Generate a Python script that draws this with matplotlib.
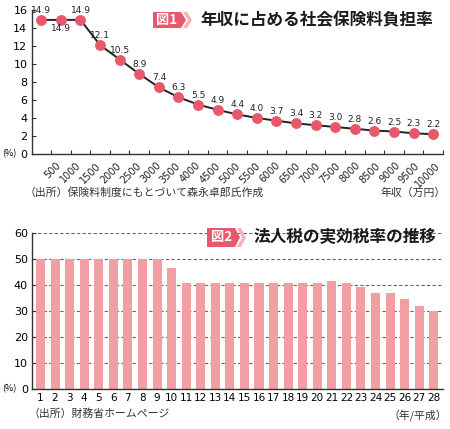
import matplotlib
matplotlib.use('Agg')
import matplotlib.pyplot as plt
import matplotlib.transforms as mtransforms
from matplotlib.patches import Polygon

# 図1: 年収別 社会保険料負担率 (%)
nenshu_labels = ['500', '1000', '1500', '2000', '2500', '3000', '3500', '4000',
                 '4500', '5000', '5500', '6000', '6500', '7000', '7500', '8000',
                 '8500', '9000', '9500', '10000']
futan = [14.9, 14.9, 14.9, 12.1, 10.5, 8.9, 7.4, 6.3, 5.5, 4.9, 4.4,
         4.0, 3.7, 3.4, 3.2, 3.0, 2.8, 2.6, 2.5, 2.3, 2.2]

# 図2: 法人税の実効税率 (平成1〜28年, %)
heisei = [1, 2, 3, 4, 5, 6, 7, 8, 9, 10, 11, 12, 13, 14,
          15, 16, 17, 18, 19, 20, 21, 22, 23, 24, 25, 26, 27, 28]
zeiritsu = [50.0, 50.0, 50.0, 50.0, 50.0, 50.0, 50.0, 50.0, 50.0, 46.4,
            40.9, 40.9, 40.9, 40.9, 40.9, 40.9, 40.9, 40.9, 40.9, 40.9,
            41.5, 40.9, 39.3, 37.0, 37.0, 34.6, 32.1, 30.0]

JP = ['Noto Sans CJK JP', 'DejaVu Sans']
AKA = '#E8586B'
PINK = '#F29FA4'
W, H = 450, 429


def fx(px):
    return px / W


def fy(py):
    return 1 - py / H


fig = plt.figure(figsize=(4.5, 4.29), dpi=100)

# ---- 図1 ----
ax1 = fig.add_axes([fx(31.5), fy(154), fx(443) - fx(31.5), fy(10) - fy(154)])
xs = [i + 0.5 for i in range(len(futan))]
ax1.plot(xs, futan, color='#222222', lw=1.4, marker='o', ms=6.8,
         mfc=AKA, mec=AKA, zorder=3, clip_on=False)
ax1.set_xlim(0, 21)
ax1.set_ylim(0, 16)
ax1.set_yticks(range(0, 17, 2))
ax1.set_xticks(range(1, 22))
ax1.set_xticklabels([])
ax1.tick_params(axis='x', direction='in', length=3, width=0.8, color='#333333')
ax1.tick_params(axis='y', direction='in', length=3, width=0.8, labelsize=8,
                pad=3, color='#333333')
for s in ['top', 'right']:
    ax1.spines[s].set_visible(False)
for s in ['left', 'bottom']:
    ax1.spines[s].set_color('#333333')
    ax1.spines[s].set_linewidth(1.0)

trans1 = mtransforms.blended_transform_factory(ax1.transData, ax1.transAxes)
for i, lab in enumerate(nenshu_labels):
    ax1.text(1.607 + 1.017 * i, -0.045, lab, transform=trans1, rotation=45,
             ha='right', va='top', fontsize=7, color='#222222')

for i, v in enumerate(futan):
    dy = -6.5 if i == 1 else 6.8
    ax1.annotate(f'{v:.1f}', (xs[i], v), xytext=(0, dy),
                 textcoords='offset points', ha='center', va='center',
                 fontsize=6.5, color='#222222', annotation_clip=False)

fig.text(fx(2), fy(154), '(%)', fontsize=6.5, va='center', ha='left', family=JP)
fig.text(fx(25), fy(193), '（出所）保険料制度にもとづいて森永卓郎氏作成',
         fontsize=7.8, va='center', ha='left', family=JP, color='#333333')
fig.text(fx(446), fy(193), '年収（万円）', fontsize=7.8, va='center',
         ha='right', family=JP, color='#333333')

# ---- 図2 ----
ax2 = fig.add_axes([fx(32), fy(389), fx(443) - fx(32), fy(233) - fy(389)])
ax2.bar(heisei, zeiritsu, width=0.62, color=PINK, zorder=2)
ax2.set_xlim(0.417, 28.63)
ax2.set_ylim(0, 60)
ax2.set_yticks(range(0, 61, 10))
ax2.set_xticks(heisei)
ax2.set_axisbelow(True)
ax2.yaxis.grid(True, linestyle=(0, (3, 2)), color='#666666', lw=0.8)
ax2.tick_params(axis='x', length=0, labelsize=7.5, pad=3)
ax2.tick_params(axis='y', direction='in', length=3, width=0.8, labelsize=8,
                pad=3, color='#333333')
for s in ['top', 'right']:
    ax2.spines[s].set_visible(False)
for s in ['left', 'bottom']:
    ax2.spines[s].set_color('#333333')
    ax2.spines[s].set_linewidth(1.0)

fig.text(fx(2), fy(389), '(%)', fontsize=6.5, va='center', ha='left', family=JP)
fig.text(fx(28), fy(414), '（出所）財務省ホームページ', fontsize=7.8,
         va='center', ha='left', family=JP, color='#333333')
fig.text(fx(447), fy(415), '（年/平成）', fontsize=7.8, va='center',
         ha='right', family=JP, color='#333333')


# ---- 見出し ----
def midashi(x0, y0, y1, num, title):
    ym = (y0 + y1) / 2
    box = [(x0, y0), (x0 + 28, y0), (x0 + 33, ym), (x0 + 28, y1), (x0, y1)]
    fig.patches.append(Polygon([(fx(a), fy(b)) for a, b in box], closed=True,
                               transform=fig.transFigure, facecolor=AKA,
                               edgecolor='none'))
    chev = [(x0 + 30, y0), (x0 + 34, y0), (x0 + 39, ym), (x0 + 34, y1),
            (x0 + 30, y1), (x0 + 35, ym)]
    fig.patches.append(Polygon([(fx(a), fy(b)) for a, b in chev], closed=True,
                               transform=fig.transFigure, facecolor='#F7B3BA',
                               edgecolor='none'))
    fig.text(fx(x0 + 14), fy(ym), num, color='white', fontsize=9.5,
             fontweight='bold', ha='center', va='center', family=JP)
    fig.text(fx(x0 + 47), fy(ym), title, fontsize=12, fontweight='bold',
             ha='left', va='center', family=JP, color='#1a1a1a')


midashi(153, 12, 28, '図1', '年収に占める社会保険料負担率')
midashi(207, 228, 247, '図2', '法人税の実効税率の推移')

fig.savefig('out.png', dpi=100)
